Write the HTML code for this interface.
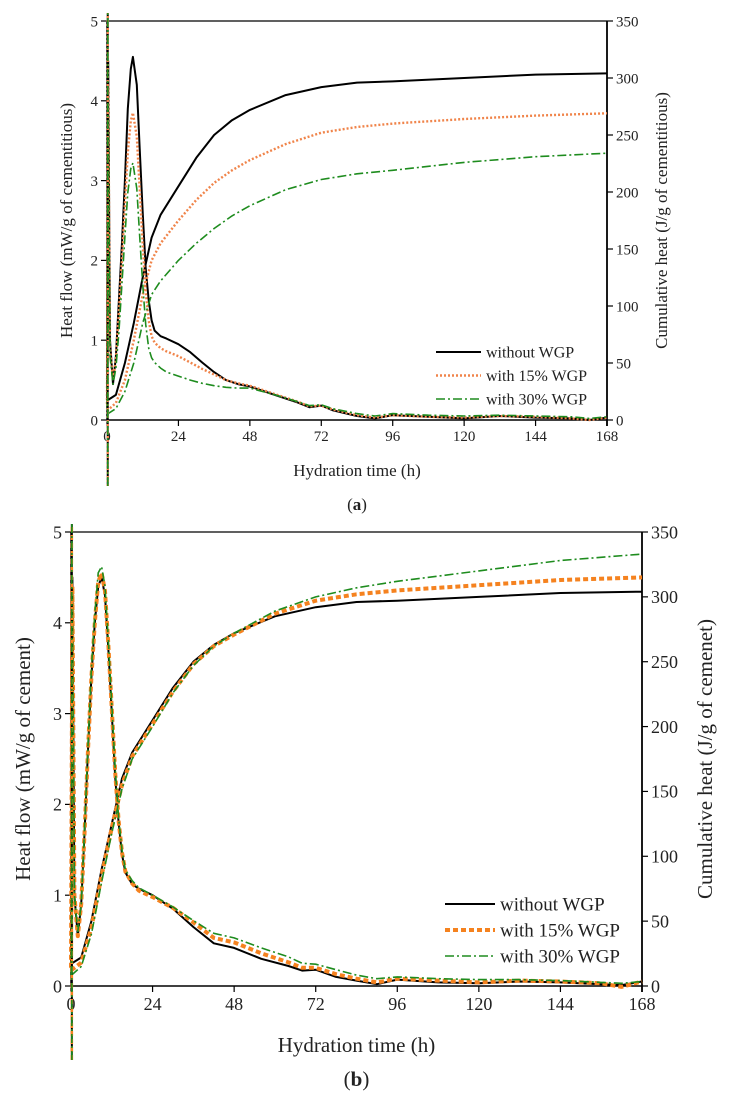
<!DOCTYPE html>
<html><head><meta charset="utf-8">
<style>
body{margin:0;background:#fff;}
svg{display:block;font-family:"Liberation Serif",serif;}
</style></head>
<body>
<svg id="chart" width="732" height="1104" viewBox="0 0 732 1104"></svg>
<script>
// ---- shared data ----
const xTicks=[0,24,48,72,96,120,144,168];
const hfTicks=[0,1,2,3,4,5];
const cumTicks=[0,50,100,150,200,250,300,350];
const seriesNames=["without WGP","with 15% WGP","with 30% WGP"];
const spikeRange=[-0.8,5.15];

// ---- panel (a) ----
const aHfT=[0,0.4,1,2,3,4,5,6,7,8,8.7,10,11,12,13,14,15,16,18,20,24,28,32,36,40,44,48,56,64,68,72,76,84,90,96,108,120,132,144,156,162,168];
const aHfBlack=[0.25,4.5,1.0,0.45,0.8,1.5,2.2,3.0,3.9,4.4,4.55,4.2,3.4,2.6,1.9,1.5,1.25,1.12,1.05,1.02,0.95,0.85,0.72,0.6,0.5,0.45,0.42,0.32,0.22,0.16,0.18,0.12,0.05,0.02,0.06,0.04,0.02,0.05,0.03,0.02,0.0,0.03];
const aHf15=[0.2,4.2,0.9,0.5,0.75,1.35,2.0,2.7,3.35,3.75,3.85,3.55,2.9,2.2,1.6,1.25,1.05,0.97,0.9,0.86,0.8,0.72,0.64,0.57,0.5,0.46,0.43,0.33,0.23,0.17,0.18,0.13,0.06,0.03,0.06,0.04,0.03,0.05,0.04,0.02,0.0,0.03];
const aHf30=[0.15,4.0,0.8,0.45,0.65,1.1,1.7,2.3,2.85,3.15,3.22,2.9,2.3,1.7,1.2,0.9,0.78,0.72,0.65,0.6,0.55,0.5,0.46,0.43,0.41,0.4,0.4,0.32,0.23,0.18,0.19,0.14,0.08,0.05,0.08,0.06,0.05,0.06,0.05,0.04,0.02,0.04];
const aCumT=[0,3,6,9,12,15,18,24,30,36,42,48,60,72,84,96,120,144,168];
const aCumBlack=[17,22,50,85,125,160,180,205,230,250,263,272,285,292,296,297,300,303,304];
const aCum15=[8,15,35,70,110,140,155,175,193,208,219,228,242,252,257,260,264,267,269];
const aCum30=[5,10,25,50,85,110,122,140,155,168,179,188,202,211,216,219,226,231,234];

// ---- panel (b) ----
const bHfT=[0,0.4,1,2,3,4,5,6,7,8,9,10,11,12,13,14,15,16,18,20,24,30,36,42,48,56,64,68,72,78,84,90,96,108,120,132,144,156,162,168];
const bHfBlack=[0.25,4.5,1.0,0.55,0.9,1.7,2.6,3.4,4.0,4.4,4.5,4.3,3.7,3.0,2.3,1.8,1.45,1.25,1.12,1.07,1.0,0.85,0.65,0.47,0.42,0.3,0.22,0.17,0.18,0.1,0.06,0.02,0.07,0.04,0.03,0.05,0.04,0.02,0.01,0.05];
const bHf15=[0.2,4.4,1.0,0.55,0.9,1.7,2.6,3.4,4.0,4.45,4.55,4.35,3.75,3.05,2.35,1.82,1.47,1.26,1.13,1.05,0.98,0.86,0.7,0.53,0.48,0.36,0.26,0.2,0.2,0.13,0.08,0.04,0.08,0.06,0.04,0.06,0.05,0.03,-0.01,0.05];
const bHf30=[0.12,4.3,1.0,0.6,0.9,1.75,2.65,3.5,4.1,4.55,4.62,4.4,3.8,3.1,2.4,1.85,1.5,1.28,1.16,1.08,1.0,0.87,0.72,0.58,0.53,0.42,0.32,0.25,0.24,0.18,0.12,0.08,0.1,0.08,0.07,0.07,0.06,0.04,0.03,0.05];
const bCumT=[0,3,6,9,12,15,18,24,30,36,42,48,60,72,84,96,120,144,168];
const bCumBlack=[17,22,50,90,125,160,180,205,230,250,263,272,285,292,296,297,300,303,304];
const bCum15=[12,18,45,85,122,155,177,202,227,248,262,271,287,297,302,305,309,313,315];
const bCum30=[8,15,40,80,118,152,175,200,226,247,262,272,289,300,307,312,320,328,333];

const NS="http://www.w3.org/2000/svg";
const svg=document.getElementById('chart');
function mk(tag,attrs,parent){const e=document.createElementNS(NS,tag);for(const k in attrs)e.setAttribute(k,attrs[k]);(parent||svg).appendChild(e);return e;}

const styles=[
 {stroke:"#000",w:2,dash:"",cap:"butt"},
 null,
 {stroke:"#1e8c1e",w:1.6,dash:"9 3 2 3",cap:"butt"}
];

function panel(p){
  const g=mk('g',{});
  
  
  const xs=t=>p.x0+(t/168)*(p.x1-p.x0);
  const yl=v=>p.yb-(v/5)*(p.yb-p.yt);
  const yr=v=>p.yb-(v/350)*(p.yb-p.yt);
  const clipId='clip'+p.id;
  const cp=mk('clipPath',{id:clipId},g);
  mk('rect',{x:p.x0-2,y:p.yt-8,width:p.x1-p.x0+4,height:p.spikeBottom-p.yt+8},cp);
  const top=mk('line',{x1:p.x0,y1:p.yt,x2:p.x1,y2:p.yt,stroke:"#000","stroke-width":1.2},g);
  
  const xa=mk('line',{x1:p.x0,y1:p.yb,x2:p.x1,y2:p.yb,stroke:"#000","stroke-width":1.5},g);
  
  const la=mk('line',{x1:p.x0,y1:p.yt,x2:p.x0,y2:p.yb,stroke:"#000","stroke-width":1.5},g);
  
  const ra=mk('line',{x1:p.x1,y1:p.yt,x2:p.x1,y2:p.yb+6,stroke:"#000","stroke-width":1.8},g);
  
  xTicks.forEach(t=>{
    const x=xs(t);
    const tk=mk('line',{x1:x,y1:p.yb,x2:x,y2:p.yb+6,stroke:"#000","stroke-width":1.2},g);
    
    const tx=mk('text',{x:x,y:p.yb+p.fs+6,"font-size":p.fs,"text-anchor":"middle",fill:"#222"},g);
    
    tx.textContent=t;
  });
  hfTicks.forEach(v=>{
    const y=yl(v);
    const tk=mk('line',{x1:p.x0-6,y1:y,x2:p.x0,y2:y,stroke:"#000","stroke-width":1.2},g);
    
    const tx=mk('text',{x:p.x0-9,y:y+p.fs*0.35,"font-size":p.fs,"text-anchor":"end",fill:"#222"},g);
    
    tx.textContent=v;
  });
  cumTicks.forEach(v=>{
    const y=yr(v);
    const tk=mk('line',{x1:p.x1,y1:y,x2:p.x1+6,y2:y,stroke:"#000","stroke-width":1.2},g);
    
    const tx=mk('text',{x:p.x1+9,y:y+p.fs*0.35,"font-size":p.fs,"text-anchor":"start",fill:"#222"},g);
    
    tx.textContent=v;
  });
  const xt=mk('text',{x:(p.x0+p.x1)/2,y:p.xTitleY,"font-size":p.tfs,"text-anchor":"middle",fill:"#222"},g);
  
  xt.textContent="Hydration time (h)";
  const cy=(p.yt+p.yb)/2;
  const lt=mk('text',{x:p.lTitleX,y:cy,"font-size":p.tfs,"text-anchor":"middle",fill:"#222",transform:`rotate(-90 ${p.lTitleX} ${cy})`},g);
  
  lt.textContent=p.lTitle;
  const rt=mk('text',{x:p.rTitleX,y:cy,"font-size":p.tfs,"text-anchor":"middle",fill:"#222",transform:`rotate(-90 ${p.rTitleX} ${cy})`},g);
  
  rt.textContent=p.rTitle;
  const lab=mk('text',{x:(p.x0+p.x1)/2,y:p.labelY,"font-size":p.tfs,"text-anchor":"middle",fill:"#222"},g);
  
  lab.innerHTML='(<tspan font-weight="bold">'+p.label+'</tspan>)';
  const sty=[styles[0],p.orange,styles[2]];
  const plot=mk('g',{"clip-path":`url(#${clipId})`},g);
  
  const draw=(ts,vs,ys,s,nm)=>{
    const pts=ts.map((t,i)=>xs(t).toFixed(1)+','+ys(vs[i]).toFixed(1)).join(' ');
    const pl=mk('polyline',{points:pts,fill:"none",stroke:s.stroke,"stroke-width":s.w,"stroke-dasharray":s.dash,"stroke-linecap":s.cap,"stroke-linejoin":"round"},plot);
    
  };
  [0,1,2].forEach(i=>{
    draw(p.cumT,p.cum[i],yr,sty[i],'cumulative-heat-line-'+i);
    draw(p.hfT,p.hf[i],yl,sty[i],'heat-flow-line-'+i);
  });
  [0,1,2].forEach(i=>{
    const sx=xs(0.25);
    const sp=mk('line',{x1:sx,y1:p.spikeBottom,x2:sx,y2:yl(spikeRange[1]),stroke:sty[i].stroke,"stroke-width":Math.min(sty[i].w,2.5),"stroke-dasharray":sty[i].dash},plot);
    
  });
  const lg=mk('g',{},g);
  
  seriesNames.forEach((n,i)=>{
    const y=p.legY+i*p.legDy;
    const ln=mk('line',{x1:p.legX,y1:y,x2:p.legX+p.legW,y2:y,stroke:sty[i].stroke,"stroke-width":sty[i].w,"stroke-dasharray":sty[i].dash},lg);
    
    const tx=mk('text',{x:p.legX+p.legW+5,y:y+p.lfs*0.33,"font-size":p.lfs,fill:"#222"},lg);
    
    tx.textContent=n;
  });
}

panel({id:'a',name:'panel-a',x0:107,x1:607,yt:21,yb:420,spikeBottom:486,fs:15,tfs:17,lfs:16,
  xTitleY:476,labelY:510,lTitleX:72,rTitleX:667,
  lTitle:"Heat flow (mW/g of cementitious)",rTitle:"Cumulative heat (J/g of cementitious)",label:"a",
  orange:{stroke:"#f0844a",w:2.4,dash:"2 2",cap:"butt"},
  hfT:aHfT,hf:[aHfBlack,aHf15,aHf30],cumT:aCumT,cum:[aCumBlack,aCum15,aCum30],
  legX:436,legW:45,legY:352,legDy:23.5});
panel({id:'b',name:'panel-b',x0:71,x1:642,yt:532,yb:986,spikeBottom:1060,fs:18,tfs:21,lfs:19,
  xTitleY:1052,labelY:1086,lTitleX:30,rTitleX:712,
  lTitle:"Heat flow (mW/g of cement)",rTitle:"Cumulative heat (J/g of cemenet)",label:"b",
  orange:{stroke:"#f5821f",w:4,dash:"5 3",cap:"butt"},
  hfT:bHfT,hf:[bHfBlack,bHf15,bHf30],cumT:bCumT,cum:[bCumBlack,bCum15,bCum30],
  legX:445,legW:50,legY:904,legDy:26});
</script>
</body></html>
